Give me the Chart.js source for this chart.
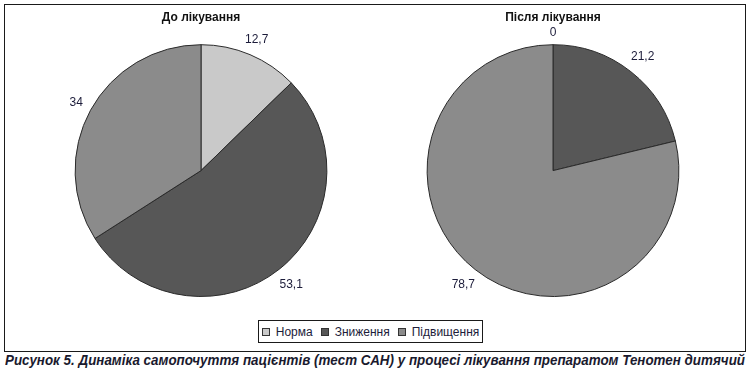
<!DOCTYPE html>
<html>
<head>
<meta charset="utf-8">
<script src="https://cdn.jsdelivr.net/npm/chart.js@4.4.1/dist/chart.umd.min.js"></script>
<style>
  html, body { margin: 0; padding: 0; background: #fff; overflow: hidden; }
  body { width: 750px; height: 383px; position: relative; }
  #frame { position: absolute; left: 4px; top: 4px; width: 740px; height: 346px; border: 1px solid #1a1a1a; }
  .cv { position: absolute; top: 4px; height: 347px; }
  #c1wrap { left: 4px; width: 402px; }
  #c2wrap { left: 361px; width: 384px; }
  #legend { position: absolute; left: 258px; top: 320px; width: 223px; height: 21px; border: 1px solid #1a1a1a;
    display: flex; align-items: center; justify-content: center; font-family: "Liberation Sans", Arial, sans-serif; font-size: 12px; color: #1c1c3a; background: #fff; }
  #legend .it { display: flex; align-items: center; margin: 0 4px; }
  #legend .sq { width: 6px; height: 6px; border: 1px solid #333; margin-right: 6px; }
  #caption { position: absolute; left: 5px; top: 352px; white-space: nowrap; font-family: "Liberation Sans Narrow", "Liberation Sans", sans-serif;
    font-weight: bold; font-style: italic; font-size: 14px; color: #1a1a2e; transform-origin: 0 0; }
</style>
</head>
<body>
<div id="frame"></div>
<div id="c1wrap" class="cv"><canvas id="c1"></canvas></div>
<div id="c2wrap" class="cv"><canvas id="c2"></canvas></div>
<div id="legend"></div>
<div id="caption">Рисунок 5. Динаміка самопочуття пацієнтів (тест САН) у процесі лікування препаратом Тенотен дитячий</div>
<script>
const categories = ["Норма", "Зниження", "Підвищення"];
const chartTitles = ["До лікування", "Після лікування"];
const beforeValues = [12.7, 53.1, 34];
const afterValues = [0, 21.2, 78.7];
const sliceColors = ["#c9c9c9", "#575757", "#8b8b8b"];

const labelPlugin = {
  id: 'outsideLabels',
  afterDatasetsDraw(chart) {
    const ctx = chart.ctx;
    const meta = chart.getDatasetMeta(0);
    const data = chart.data.datasets[0].data;
    ctx.save();
    ctx.font = '12px "Liberation Sans", Arial, sans-serif';
    ctx.fillStyle = '#1c1c3a';
    ctx.textAlign = 'center';
    ctx.textBaseline = 'middle';
    meta.data.forEach((arc, i) => {
      const p = arc.getProps(['x', 'y', 'startAngle', 'endAngle', 'outerRadius'], true);
      const mid = (p.startAngle + p.endAngle) / 2;
      const txt = String(data[i]).replace('.', ',');
      const w = ctx.measureText(txt).width;
      const h = 10;
      const c = Math.cos(mid), s = Math.sin(mid);
      const d = p.outerRadius + 8 + Math.abs(c) * w / 2 + Math.abs(s) * h / 2;
      ctx.fillText(txt, p.x + c * d, p.y + s * d + 0.5);
    });
    ctx.restore();
  }
};

function makePie(id, values, title, pad) {
  return new Chart(document.getElementById(id), {
    type: 'pie',
    data: {
      labels: categories,
      datasets: [{ data: values, backgroundColor: sliceColors, borderColor: '#2a2a2a', borderWidth: 1 }]
    },
    options: {
      responsive: true,
      maintainAspectRatio: false,
      animation: false,
      layout: { padding: { left: pad[0], right: pad[1], top: 0, bottom: 54 } },
      plugins: {
        legend: { display: false },
        tooltip: { enabled: false },
        title: {
          display: true, text: title, color: '#111',
          font: { family: '"Liberation Sans Narrow", "Liberation Sans", sans-serif', size: 12, weight: 'bold', lineHeight: 1.1 },
          padding: { top: 7, bottom: 20 }
        }
      }
    },
    plugins: [labelPlugin]
  });
}

makePie('c1', beforeValues, chartTitles[0], [60, 68]);
makePie('c2', afterValues, chartTitles[1], [60, 60]);

const lg = document.getElementById('legend');
categories.forEach((c, i) => {
  const it = document.createElement('div');
  it.className = 'it';
  const sq = document.createElement('div');
  sq.className = 'sq';
  sq.style.background = sliceColors[i];
  const t = document.createElement('span');
  t.textContent = c;
  it.appendChild(sq); it.appendChild(t);
  lg.appendChild(it);
});

const cap = document.getElementById('caption');
const cw = cap.getBoundingClientRect().width;
cap.style.transform = 'scaleX(' + (740 / cw) + ')';
</script>
</body>
</html>
